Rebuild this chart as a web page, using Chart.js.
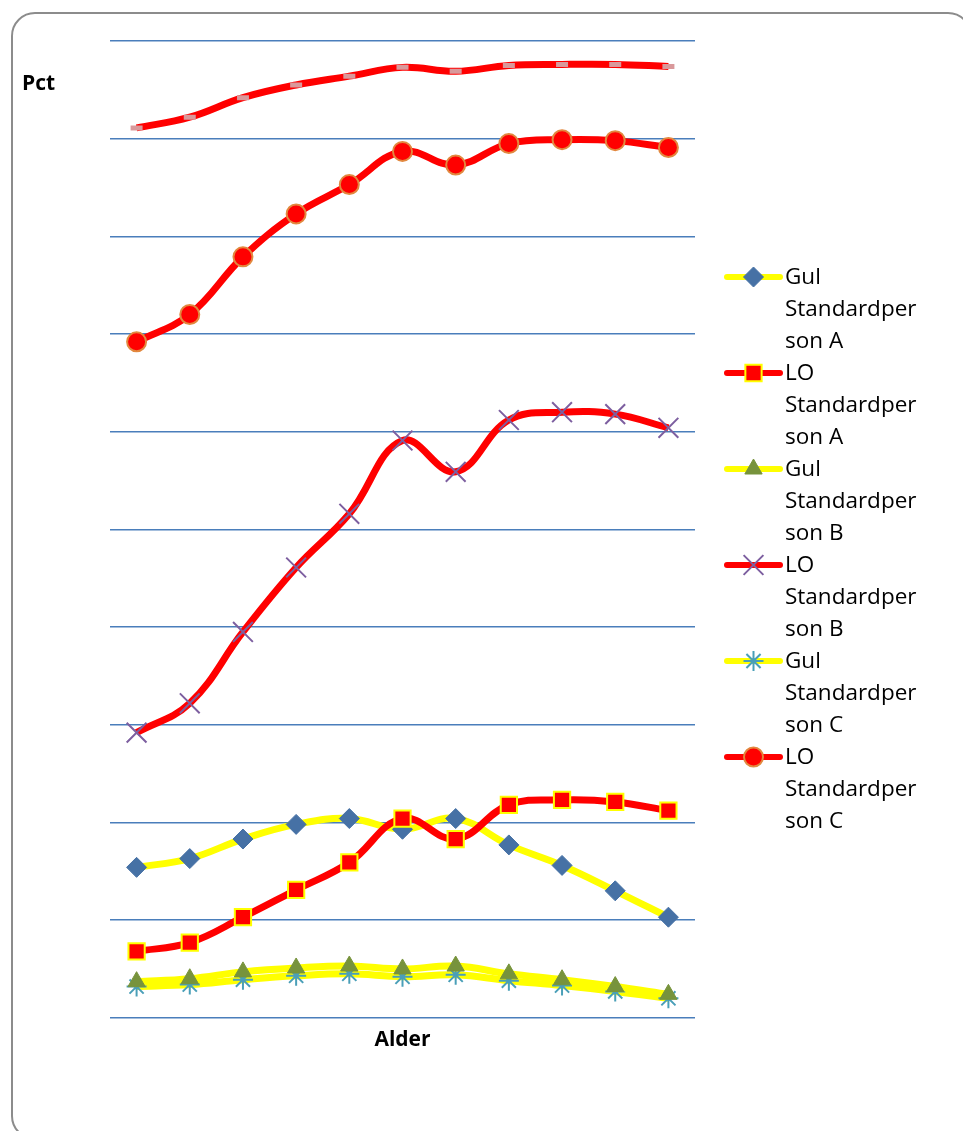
<!DOCTYPE html>
<html lang="da">
  <head>
    <meta charset="UTF-8" />
    <title>Pct efter alder</title>
    <script src="https://cdn.jsdelivr.net/npm/chart.js"></script>
    <style>
      html, body { margin: 0; padding: 0; background: #fff; }
      #wrap { position: relative; width: 963px; height: 1131px; overflow: hidden; }
      #pctChart { position: absolute; left: 0; top: 0; }
      #frame {
        position: absolute; left: 11px; top: 12px;
        width: 957px; height: 1124px;
        border: 2px solid #8c8c8c; border-radius: 24px;
        pointer-events: none;
      }
    </style>
  </head>
  <body>
    <div id="wrap">
      <canvas id="pctChart" width="963" height="1131"></canvas>
      <div id="frame"></div>
    </div>

    <script>
      // x categories (age groups, no tick labels shown in the original)
      const ages = ["1", "2", "3", "4", "5", "6", "7", "8", "9", "10", "11"];

      const gulA = [15.4, 16.3, 18.3, 19.8, 20.4, 19.3, 20.4, 17.7, 15.6, 13.0, 10.3];
      const loA = [6.8, 7.7, 10.3, 13.1, 15.9, 20.4, 18.3, 21.8, 22.3, 22.1, 21.2];
      const gulB = [3.7, 4.0, 4.7, 5.1, 5.3, 5.0, 5.3, 4.5, 3.9, 3.2, 2.4];
      const loB = [29.2, 32.2, 39.5, 46.1, 51.6, 59.1, 55.9, 61.2, 62.0, 61.8, 60.4];
      const gulC = [3.2, 3.4, 3.9, 4.3, 4.5, 4.2, 4.4, 3.8, 3.3, 2.7, 2.0];
      const loC = [69.2, 72.0, 77.9, 82.3, 85.3, 88.7, 87.3, 89.5, 89.9, 89.8, 89.1];
      // extra series without legend entry (top line)
      const topLine = [91.1, 92.2, 94.2, 95.5, 96.4, 97.3, 96.9, 97.5, 97.6, 97.6, 97.4];

      const yTicks = [0, 10, 20, 30, 40, 50, 60, 70, 80, 90, 100];

      const RED = "#ff0000";
      const YEL = "#ffff00";

      function series(label, data, line, style, fill, border, radius, bw, order) {
        return {
          label: label,
          data: data,
          borderColor: line,
          borderWidth: 7,
          tension: 0.4,
          pointStyle: style,
          pointBackgroundColor: fill,
          pointBorderColor: border,
          pointBorderWidth: bw,
          pointRadius: radius,
          order: order,
        };
      }

      const datasets = [
        series("Gul Standardperson A", gulA, YEL, "rectRot", "#4671a5", "#4671a5", 10, 1, 3),
        series("LO Standardperson A", loA, RED, "rect", RED, YEL, 11.5, 2, 0),
        series("Gul Standardperson B", gulB, YEL, "triangle", "#77933c", "#77933c", 10, 1, 4),
        series("LO Standardperson B", loB, RED, "crossRot", "#7d5fa0", "#7d5fa0", 14, 2, 1),
        series("Gul Standardperson C", gulC, YEL, "star", "#4a9fb8", "#4a9fb8", 10, 2, 5),
        series("LO Standardperson C", loC, RED, "circle", RED, "#e2883f", 9.5, 2, 2),
        series("", topLine, RED, "line", "#d9999b", "#d9999b", 6, 5, 6),
      ];
      datasets[6].hideInLegend = true;

      // wrap like the original legend: about 11 characters per line
      function wrapLabel(text, max) {
        const lines = [];
        let cur = "";
        text.split(" ").forEach((w) => {
          while (w.length > max) {
            if (cur) { lines.push(cur); cur = ""; }
            lines.push(w.slice(0, max));
            w = w.slice(max);
          }
          if (!cur) cur = w;
          else if ((cur + " " + w).length <= max) cur += " " + w;
          else { lines.push(cur); cur = w; }
        });
        if (cur) lines.push(cur);
        return lines;
      }

      const sideLegend = {
        id: "sideLegend",
        afterDraw(chart) {
          const ctx = chart.ctx;
          const x0 = 727, x1 = 780, tx = 785;
          const lineH = 32;
          let y = 277;
          ctx.save();
          chart.data.datasets.forEach((ds) => {
            if (ds.hideInLegend) return;
            ctx.strokeStyle = ds.borderColor;
            ctx.lineWidth = 6;
            ctx.lineCap = "round";
            ctx.beginPath();
            ctx.moveTo(x0, y);
            ctx.lineTo(x1, y);
            ctx.stroke();
            ctx.fillStyle = ds.pointBackgroundColor;
            ctx.strokeStyle = ds.pointBorderColor;
            ctx.lineWidth = ds.pointBorderWidth;
            ctx.lineCap = "butt";
            Chart.helpers.drawPoint(ctx, {
              pointStyle: ds.pointStyle,
              radius: ds.pointRadius,
              borderWidth: ds.pointBorderWidth,
              rotation: 0,
            }, (x0 + x1) / 2, y);
            ctx.fillStyle = "#000";
            ctx.font = "22.5px 'Open Sans'";
            ctx.textBaseline = "middle";
            ctx.textAlign = "left";
            wrapLabel(ds.label, 11).forEach((ln) => {
              ctx.fillText(ln, tx, y + 1);
              y += lineH;
            });
          });
          // y axis label sits horizontally at the top left
          ctx.font = "bold 21px 'Open Sans'";
          ctx.fillText("Pct", 22, 84);
          ctx.restore();
        },
      };

      const ctx = document.getElementById("pctChart").getContext("2d");

      new Chart(ctx, {
        type: "line",
        data: { labels: ages, datasets: datasets },
        plugins: [sideLegend],
        options: {
          responsive: false,
          animation: false,
          layout: { padding: { left: 110, right: 268, top: 41, bottom: 78 } },
          plugins: {
            legend: { display: false },
            tooltip: { enabled: false },
          },
          scales: {
            x: {
              offset: true,
              grid: { display: false, drawTicks: false },
              border: { display: false },
              ticks: { display: false },
              title: {
                display: true,
                text: "Alder",
                color: "#000",
                font: { family: "'Open Sans'", size: 21, weight: "bold", lineHeight: 1.2 },
                padding: { top: 10, bottom: 0 },
              },
            },
            y: {
              min: 0,
              max: 100,
              afterBuildTicks: (axis) => {
                axis.ticks = yTicks.map((v) => ({ value: v }));
              },
              grid: { color: "#4a7ebb", lineWidth: 1.5, drawTicks: false },
              border: { display: false },
              ticks: { display: false },
            },
          },
        },
      });
    </script>
  </body>
</html>
